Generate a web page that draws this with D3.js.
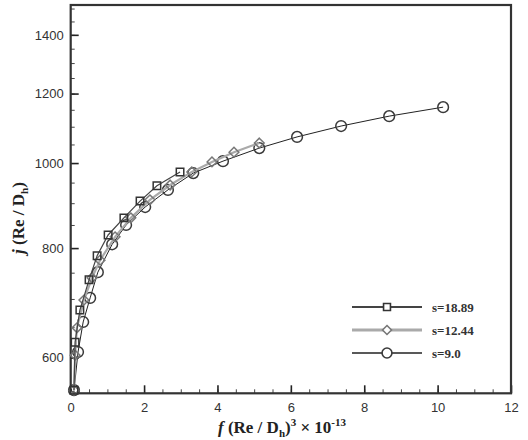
<!DOCTYPE html>
<head>
<style>
	body{ margin:0; background:white; }
	svg{ display:block; }
	.tick text{ font-family: Arial, "Liberation Sans", sans-serif; }
</style>
</head>
<body>
<script src="https://cdn.jsdelivr.net/npm/d3@7/dist/d3.min.js" charset="utf-8"></script>
<svg width="528" height="440"></svg>
<script>
	// s=18.89 (squares)
	var sqX = [0.09, 0.12, 0.25, 0.50, 0.72, 1.02, 1.45, 1.89, 2.35, 2.98];
	var sqY = [551, 625, 680, 736, 784, 828, 866, 905, 942, 977];
	// s=12.44 (diamonds)
	var diX = [0.09, 0.12, 0.17, 0.36, 0.58, 0.80, 1.21, 1.64, 2.16, 2.71, 3.30, 3.85, 4.45, 5.14];
	var diY = [551, 604, 649, 698, 740, 775, 824, 866, 908, 944, 977, 1003, 1029, 1054];
	// s=9.0 (circles)
	var ciX = [0.09, 0.20, 0.34, 0.53, 0.74, 1.13, 1.51, 2.03, 2.65, 3.34, 4.15, 5.14, 6.17, 7.37, 8.68, 10.15];
	var ciY = [551, 609, 659, 702, 751, 808, 850, 891, 932, 974, 1005, 1040, 1071, 1102, 1131, 1158];

	var seriesNames = ["s=18.89", "s=12.44", "s=9.0"];
	var xMajor = [0, 2, 4, 6, 8, 10, 12];
	var yMajor = [600, 800, 1000, 1200, 1400];

	var L = 70.7, R = 511, T = 5, B = 393.3;
	var svg = d3.select("svg");

	var x = d3.scaleLinear().domain([0, 12]).range([L, R]);
	var y = d3.scaleLog().domain([546.5, 1514]).range([B, T]);

	var xMinor = d3.range(0, 12.01, 0.5);
	var yMinor = d3.range(550, 1501, 50);

	// minor ticks
	svg.append("g").attr("transform","translate(0,"+B+")")
		.call(d3.axisTop(x).tickValues(xMinor).tickSize(4).tickFormat(""))
		.call(g => g.select(".domain").remove())
		.selectAll("line").attr("stroke","#444");
	svg.append("g").attr("transform","translate("+L+",0)")
		.call(d3.axisRight(y).tickValues(yMinor).tickSize(4).tickFormat(""))
		.call(g => g.select(".domain").remove())
		.selectAll("line").attr("stroke","#444");

	// major ticks + labels
	var xa = svg.append("g").attr("transform","translate(0,"+B+")")
		.call(d3.axisBottom(x).tickValues(xMajor).tickSize(0).tickPadding(9).tickFormat(d3.format("d")));
	xa.select(".domain").remove();
	xa.selectAll("text").attr("font-size","13px").attr("fill","#333");
	svg.append("g").attr("transform","translate(0,"+B+")")
		.call(d3.axisTop(x).tickValues(xMajor).tickSize(8).tickFormat(""))
		.call(g => g.select(".domain").remove())
		.selectAll("line").attr("stroke","#222").attr("stroke-width",1.6);

	var ya = svg.append("g").attr("transform","translate("+L+",0)")
		.call(d3.axisLeft(y).tickValues(yMajor).tickSize(0).tickPadding(7).tickFormat(d3.format("d")));
	ya.select(".domain").remove();
	ya.selectAll("text").attr("font-size","13px").attr("fill","#333");
	svg.append("g").attr("transform","translate("+L+",0)")
		.call(d3.axisRight(y).tickValues(yMajor).tickSize(8).tickFormat(""))
		.call(g => g.select(".domain").remove())
		.selectAll("line").attr("stroke","#222").attr("stroke-width",1.6);

	// frame
	svg.append("rect").attr("x",L).attr("y",T).attr("width",R-L).attr("height",B-T)
		.attr("fill","none").attr("stroke","#333").attr("stroke-width",2.2);

	var line = d3.line().x(d => x(d[0])).y(d => y(d[1]));
	function pts(xs, ys){ return xs.map((v,i) => [v, ys[i]]); }

	var series = [
		{name: seriesNames[0], data: pts(sqX, sqY), line:"#444", lw:1.2, mark:"#333", shape:d3.symbolSquare, size:56},
		{name: seriesNames[1], data: pts(diX, diY), line:"#aaa", lw:2.2, mark:"#777", shape:d3.symbolDiamond2, size:60},
		{name: seriesNames[2], data: pts(ciX, ciY), line:"#222", lw:1.0, mark:"#3a3a3a", shape:d3.symbolCircle, size:90}
	];

	series.slice().reverse().forEach(function(s){
		var g = svg.append("g");
		g.append("path").attr("d", line(s.data)).attr("fill","none")
			.attr("stroke", s.line).attr("stroke-width", s.lw);
		g.selectAll("path.m").data(s.data).enter().append("path").attr("class","m")
			.attr("d", d3.symbol().type(s.shape).size(s.size))
			.attr("transform", d => "translate("+x(d[0])+","+y(d[1])+")")
			.attr("fill","none").attr("stroke", s.mark).attr("stroke-width",1.5);
	});

	// legend
	var lg = svg.append("g");
	series.forEach(function(s, i){
		var ly = 307 + i*23;
		lg.append("line").attr("x1",352).attr("x2",422).attr("y1",ly).attr("y2",ly)
			.attr("stroke", s.line).attr("stroke-width", s.lw + 0.6);
		lg.append("path").attr("d", d3.symbol().type(s.shape).size(s.size * 0.85))
			.attr("transform","translate(387,"+ly+")")
			.attr("fill","white").attr("stroke", s.mark).attr("stroke-width",1.6);
		lg.append("text").attr("x",432).attr("y",ly+4.5)
			.attr("font-family","'Liberation Serif', 'Times New Roman', serif")
			.attr("font-weight","bold").attr("font-size","13px").attr("fill","#333")
			.text(s.name);
	});

	// axis titles
	var serif = "'Liberation Serif', 'Times New Roman', serif";
	var xt = svg.append("text").attr("x",282).attr("y",433).attr("text-anchor","middle")
		.attr("font-family",serif).attr("font-weight","bold").attr("font-size","17px").attr("fill","#222");
	xt.append("tspan").attr("font-style","italic").text("f");
	xt.append("tspan").text(" (Re / D");
	xt.append("tspan").attr("font-size","11px").attr("dy",4).text("h");
	xt.append("tspan").attr("dy",-4).text(")");
	xt.append("tspan").attr("font-size","11px").attr("dy",-7).text("3");
	xt.append("tspan").attr("dy",7).text(" \u00d7 10");
	xt.append("tspan").attr("font-size","11px").attr("dy",-7).text("-13");

	var yt = svg.append("text").attr("transform","translate(24,218) rotate(-90)").attr("text-anchor","middle")
		.attr("font-family",serif).attr("font-weight","bold").attr("font-size","17px").attr("fill","#222");
	yt.append("tspan").attr("font-style","italic").text("j");
	yt.append("tspan").text(" (Re / D");
	yt.append("tspan").attr("font-size","11px").attr("dy",4).text("h");
	yt.append("tspan").attr("dy",-4).text(")");
</script>
</body>
</html>
